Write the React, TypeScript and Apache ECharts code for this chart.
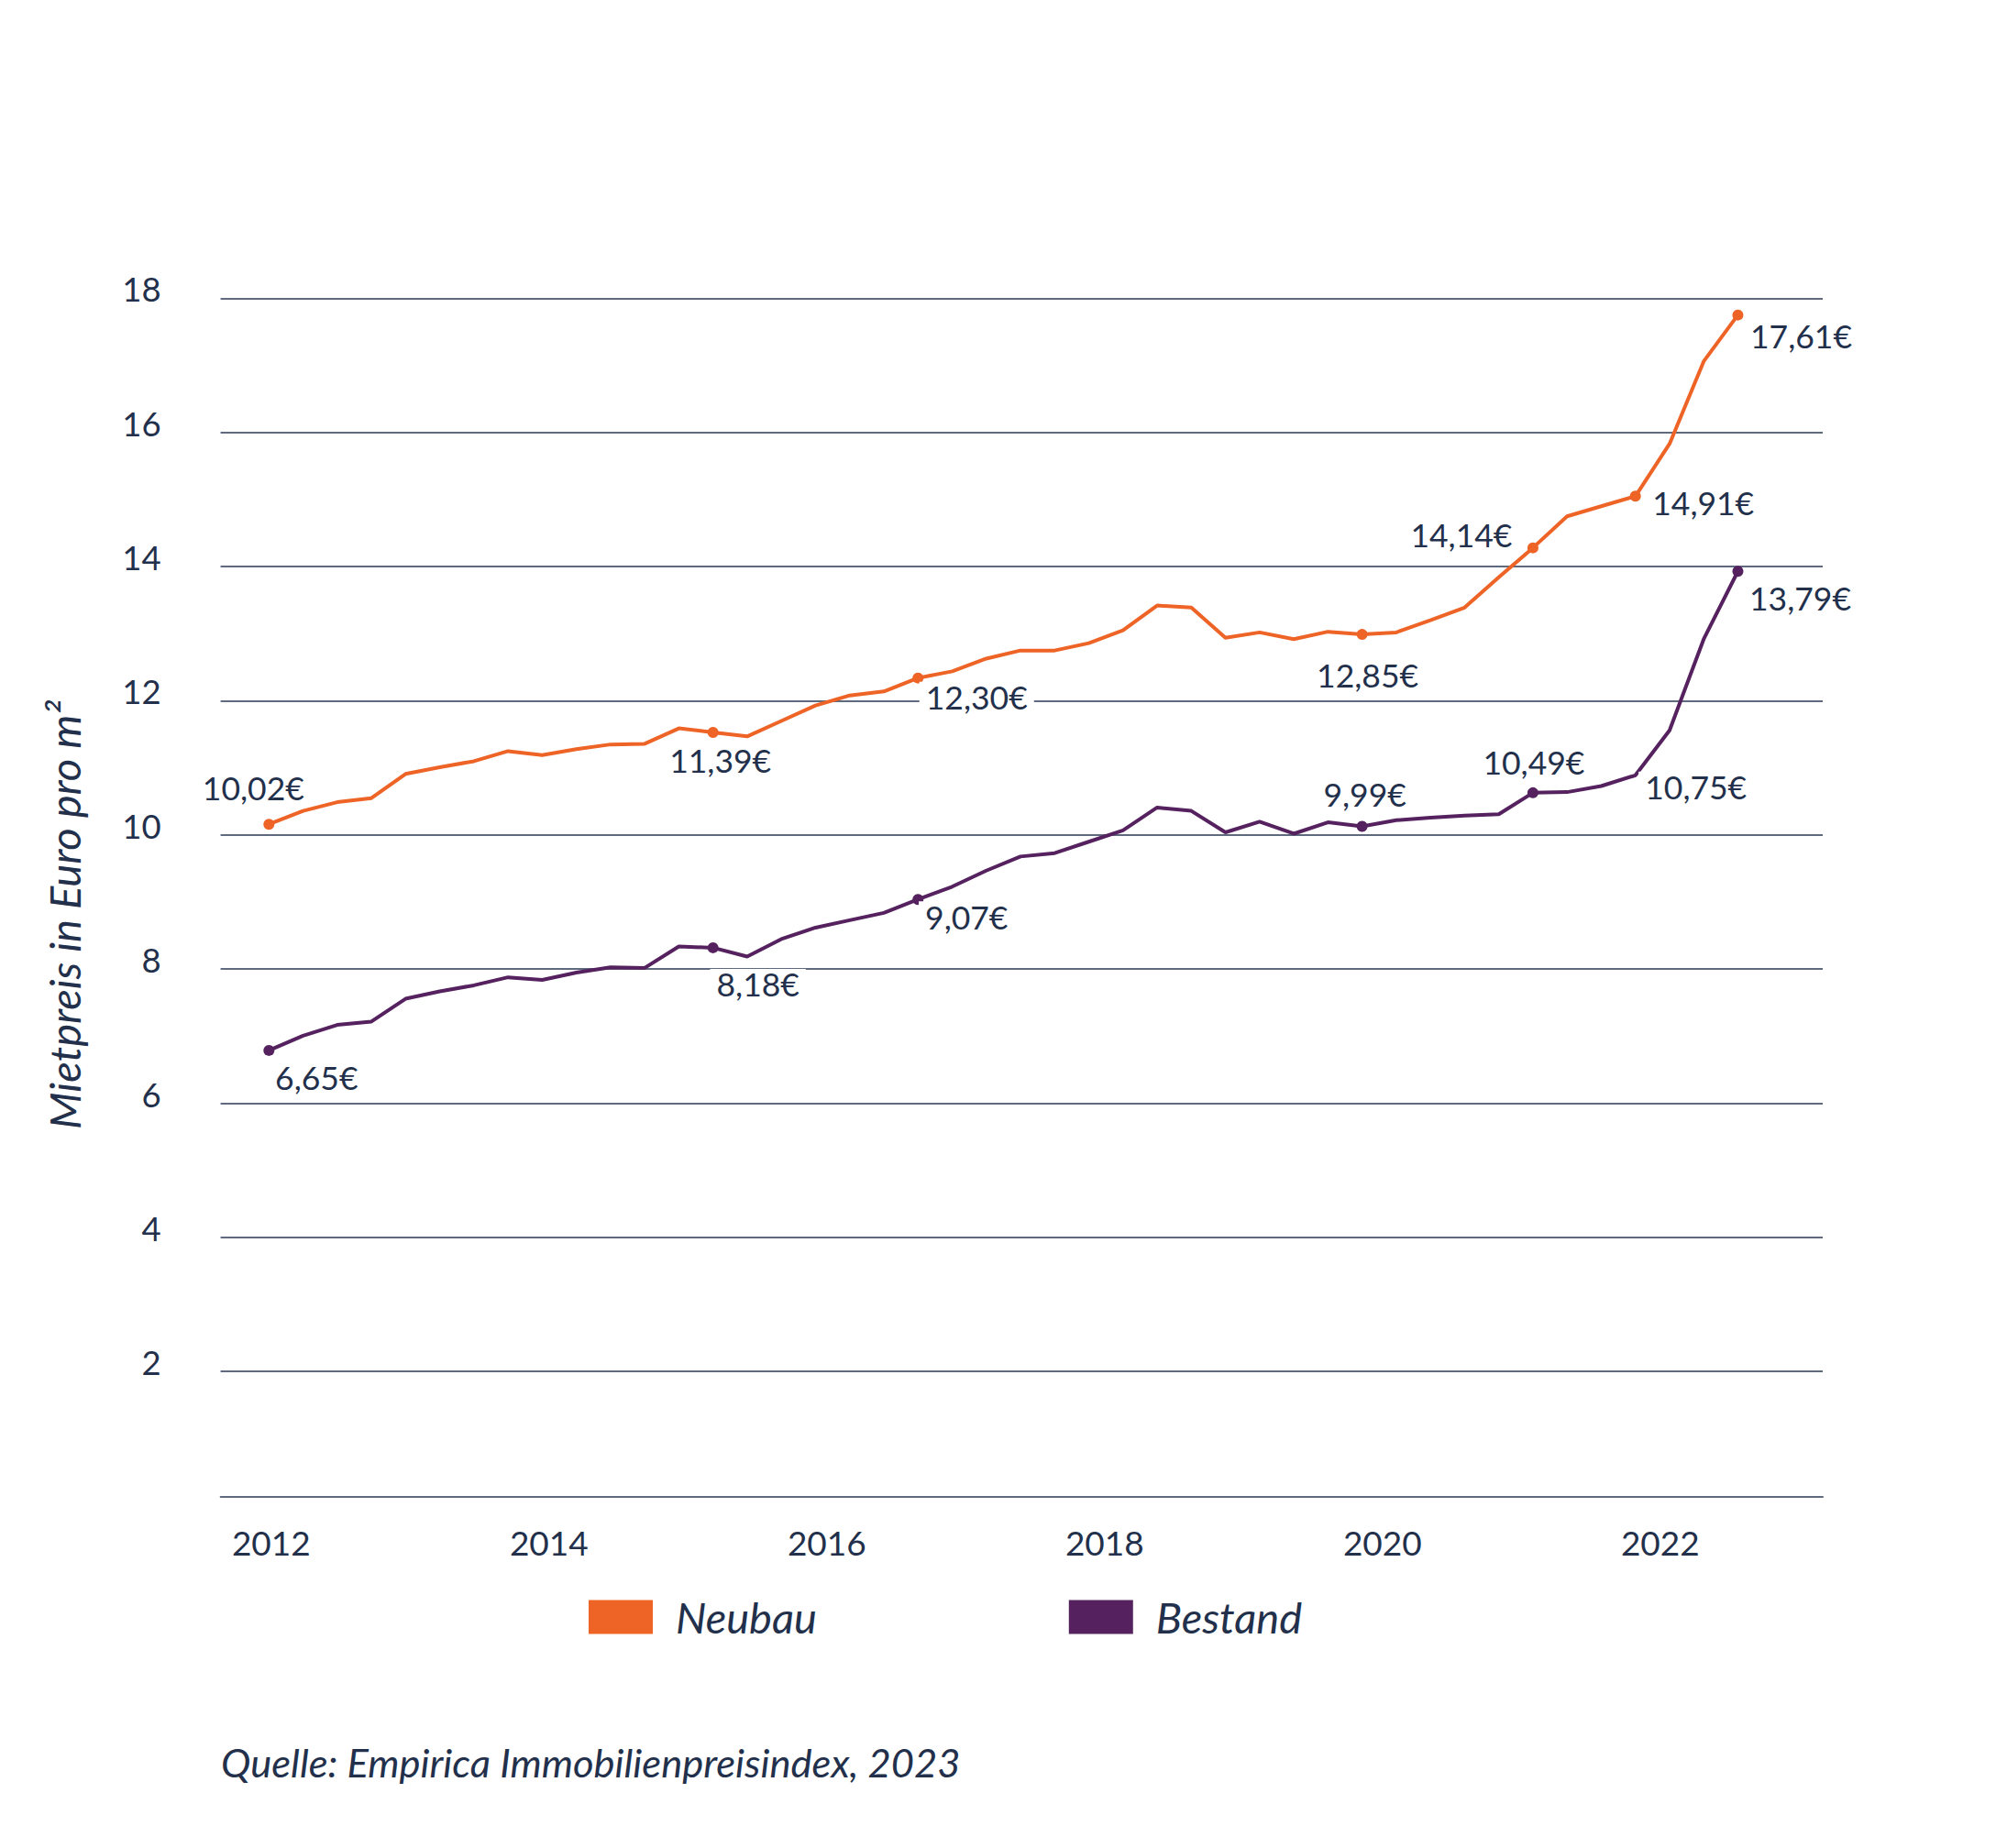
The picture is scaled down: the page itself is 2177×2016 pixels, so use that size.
import React, { useEffect, useRef } from "react";
import * as echarts from "echarts";

// Quarterly rents (Euro per m²), 2012 Q1 onward — 44 observations
const neubau = [
  10.02, 10.22, 10.35, 10.41, 10.77, 10.87, 10.96, 11.11, 11.05, 11.14, 11.21,
  11.22, 11.45, 11.39, 11.33, 11.56, 11.79, 11.94, 12.0, 12.2, 12.3, 12.49,
  12.61, 12.61, 12.72, 12.91, 13.28, 13.25, 12.8, 12.88, 12.78, 12.89, 12.85,
  12.88, 13.06, 13.25, 13.7, 14.14, 14.61, 14.76, 14.91, 15.69, 16.92, 17.61,
];
const bestand = [
  6.65, 6.87, 7.03, 7.08, 7.42, 7.53, 7.62, 7.74, 7.7, 7.81, 7.89, 7.88, 8.2,
  8.18, 8.05, 8.31, 8.48, 8.59, 8.7, 8.9, 9.09, 9.33, 9.54, 9.59, 9.76, 9.93,
  10.27, 10.22, 9.9, 10.06, 9.88, 10.05, 9.99, 10.08, 10.12, 10.15, 10.17,
  10.49, 10.5, 10.59, 10.75, 11.42, 12.78, 13.79,
];

// Annotated points: index in the series and printed value
const neubauLabelIdx = [0, 13, 19, 32, 37, 40, 43];
const neubauLabelVal = [10.02, 11.39, 12.3, 12.85, 14.14, 14.91, 17.61];
const bestandLabelIdx = [0, 13, 19, 32, 37, 40, 43];
const bestandLabelVal = [6.65, 8.18, 9.07, 9.99, 10.49, 10.75, 13.79];

const yearTicks = [2012, 2014, 2016, 2018, 2020, 2022];
const seriesNames = ["Neubau", "Bestand"];

const ORANGE = "#EE6326";
const PURPLE = "#55225F";
const TEXT = "#22304B";
const GRIDC = "#5F6A7E";
const FONT = "Lato";

// label offsets (layout only)
const neubauOffsets = [
  [-17, -40],
  [8, 31],
  [64, 21],
  [6, 44],
  [-78, -14],
  [74, 7],
  [69, 23],
];
const bestandOffsets = [
  [52, 30],
  [49, 40],
  [53, 19],
  [3, -35],
  [1, -33],
  [66, 13],
  [68, 29],
];
const bestandNoDot = [40];

const fmt = (v: number) => v.toFixed(2).replace(".", ",") + "€";

export default function App() {
  const ref = useRef<HTMLDivElement>(null);
  useEffect(() => {
    if (!ref.current) return;
    const chart = echarts.init(ref.current, undefined, { renderer: "svg" });

    const gridLeft = 240.6;
    const gridWidth = 1747.4;
    const dataBottom = 1632.7;
    const unitPx = 73.2;
    const idxPx = 37.26;
    const firstIdxX = 293.3;
    const idxMin = -(firstIdxX - gridLeft) / idxPx;
    const idxMax = idxMin + gridWidth / idxPx;
    const yearPx = 151.5;
    const firstYearX = 295.8;
    const yrMin = yearTicks[0] - (firstYearX - gridLeft) / yearPx;
    const yrMax = yrMin + gridWidth / yearPx;

    const callout = (
      name: string,
      series: number[],
      idx: number[],
      vals: number[],
      offsets: number[][],
      color: string,
      noDot: number[]
    ) => ({
      name: name + "-labels",
      type: "scatter",
      xAxisIndex: 1,
      yAxisIndex: 1,
      z: 5,
      symbol: "circle",
      itemStyle: { color, opacity: 1 },
      emphasis: { disabled: true },
      data: idx.map((i, k) => ({
        value: [i, series[i]],
        symbolSize: noDot.includes(i) ? 0 : 12,
        label: {
          show: true,
          position: "inside",
          offset: offsets[k],
          formatter: () => fmt(vals[k]),
          color: TEXT,
          opacity: 1,
          fontFamily: FONT,
          fontSize: 35.5,
          backgroundColor: "#ffffff",
          padding: [0, 7],
          lineHeight: 34,
        },
      })),
    });

    chart.setOption({
      animation: false,
      backgroundColor: "#ffffff",
      textStyle: { fontFamily: FONT },
      grid: [
        {
          left: gridLeft,
          width: gridWidth,
          top: 325.6,
          height: 1170.3,
          containLabel: false,
        },
        {
          left: gridLeft,
          width: gridWidth,
          top: dataBottom - unitPx * 18,
          height: unitPx * 18,
          containLabel: false,
        },
      ],
      xAxis: [
        { gridIndex: 0, type: "value", show: false, min: 0, max: 1 },
        {
          gridIndex: 1,
          type: "value",
          show: false,
          position: "top",
          min: idxMin,
          max: idxMax,
        },
        {
          gridIndex: 1,
          type: "value",
          position: "bottom",
          min: yrMin,
          max: yrMax,
          axisLine: { show: true, lineStyle: { color: GRIDC, width: 2 } },
          axisTick: { show: false },
          splitLine: { show: false },
          axisLabel: {
            customValues: yearTicks,
            formatter: (v: number) => String(Math.round(v)),
            color: TEXT,
            fontFamily: FONT,
            fontSize: 37,
            margin: 31,
          },
        },
      ],
      yAxis: [
        {
          gridIndex: 0,
          type: "value",
          min: 2,
          max: 18,
          interval: 2,
          axisLine: { show: false },
          axisTick: { show: false },
          axisLabel: { show: false },
          splitLine: { show: true, lineStyle: { color: GRIDC, width: 2 } },
        },
        {
          gridIndex: 1,
          type: "value",
          min: 0,
          max: 18,
          interval: 2,
          axisLine: { show: false },
          axisTick: { show: false },
          splitLine: { show: false },
          axisLabel: {
            showMinLabel: false,
            color: TEXT,
            fontFamily: FONT,
            fontSize: 36.5,
            margin: 65,
            formatter: (v: number) => String(v),
          },
        },
      ],
      legend: {
        data: seriesNames,
        left: 637,
        top: 1724,
        icon: "rect",
        itemWidth: 70,
        itemHeight: 37,
        itemGap: 275,
        selectedMode: false,
        textStyle: {
          color: TEXT,
          fontFamily: FONT,
          fontStyle: "italic",
          fontSize: 47,
          lineHeight: 56,
          padding: [0, 0, 14, 20],
        },
      },
      series: [
        {
          name: seriesNames[0],
          type: "line",
          xAxisIndex: 1,
          yAxisIndex: 1,
          data: neubau.map((v, i) => [i, v]),
          showSymbol: false,
          color: ORANGE,
          lineStyle: { color: ORANGE, width: 4 },
          z: 3,
        },
        {
          name: seriesNames[1],
          type: "line",
          xAxisIndex: 1,
          yAxisIndex: 1,
          data: bestand.map((v, i) => [i, v]),
          showSymbol: false,
          color: PURPLE,
          lineStyle: { color: PURPLE, width: 4 },
          z: 3,
        },
        callout("Neubau", neubau, neubauLabelIdx, neubauLabelVal, neubauOffsets, ORANGE, []),
        callout("Bestand", bestand, bestandLabelIdx, bestandLabelVal, bestandOffsets, PURPLE, bestandNoDot),
      ],
      graphic: [
        {
          type: "text",
          x: 70,
          y: 998,
          rotation: Math.PI / 2,
          style: {
            text: "Mietpreis in Euro pro m²",
            fill: TEXT,
            fontFamily: FONT,
            fontStyle: "italic",
            fontSize: 47,
            align: "center",
            verticalAlign: "middle",
          },
        },
        {
          type: "text",
          x: 241,
          y: 1922,
          style: {
            text: "Quelle: Empirica Immobilienpreisindex, 2023",
            fill: TEXT,
            fontFamily: FONT,
            fontStyle: "italic",
            fontSize: 43.5,
            align: "left",
            verticalAlign: "middle",
          },
        },
      ],
    });
    return () => chart.dispose();
  }, []);
  return (
    <div
      ref={ref}
      style={{ position: "absolute", left: 0, top: 0, width: 2177, height: 2016 }}
    />
  );
}
